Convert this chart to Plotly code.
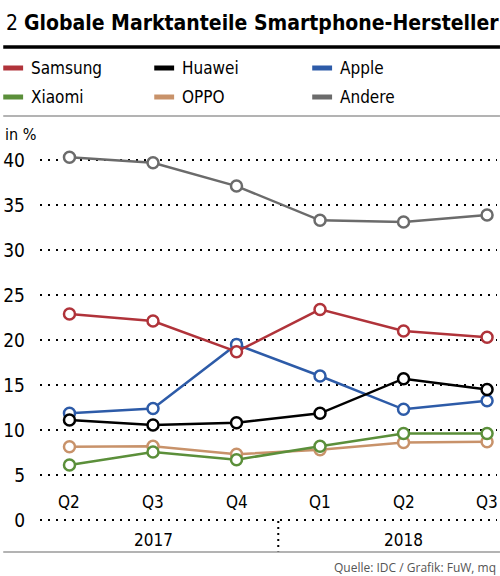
import plotly.graph_objects as go

# Daten (Marktanteile in %)
quartale = ["Q2", "Q3", "Q4", "Q1", "Q2", "Q3"]
jahre = ["2017", "2018"]
hersteller = ["Samsung", "Huawei", "Apple", "Xiaomi", "OPPO", "Andere"]

samsung = [22.9, 22.1, 18.7, 23.4, 21.0, 20.3]
huawei = [11.1, 10.55, 10.8, 11.85, 15.7, 14.5]
apple = [11.85, 12.4, 19.5, 16.0, 12.3, 13.25]
xiaomi = [6.1, 7.55, 6.7, 8.2, 9.6, 9.6]
oppo = [8.15, 8.2, 7.3, 7.8, 8.6, 8.7]
andere = [40.3, 39.7, 37.1, 33.3, 33.1, 33.9]

y_ticks = [0, 5, 10, 15, 20, 25, 30, 35, 40]

FONT = "DejaVu Sans Condensed, Liberation Sans Narrow, sans-serif"

farben = {
    "Samsung": "#b0333a",
    "Huawei": "#000000",
    "Apple": "#2d5ba8",
    "Xiaomi": "#5b8f3a",
    "OPPO": "#c8926a",
    "Andere": "#6b6b6b",
}
werte = {
    "Samsung": samsung,
    "Huawei": huawei,
    "Apple": apple,
    "Xiaomi": xiaomi,
    "OPPO": oppo,
    "Andere": andere,
}

W, H = 500, 576
L, R, T, B = 37, 3, 151, 47
PW, PH = W - L - R, H - T - B


def px_x(p):
    # Pixel -> Papierkoordinate (x)
    return (p - L) / PW


def px_y(p):
    # Pixel -> Papierkoordinate (y)
    return (H - B - p) / PH


x = list(range(len(quartale)))

fig = go.Figure()

# Zeichenreihenfolge: Samsung zuletzt (liegt oben)
for name in ["Andere", "Apple", "Huawei", "OPPO", "Xiaomi", "Samsung"]:
    fig.add_trace(go.Scatter(
        x=x, y=werte[name], name=name, mode="lines+markers",
        line=dict(color=farben[name], width=2.5),
        marker=dict(size=11, color="white", line=dict(color=farben[name], width=2.5)),
        showlegend=False, cliponaxis=False,
    ))

# Quartals-Beschriftungen im Diagramm
for i, q in enumerate(quartale):
    fig.add_annotation(x=i, y=2, text=q, showarrow=False, xref="x", yref="y",
                       font=dict(size=17, family=FONT, color="black"))

# Jahres-Beschriftungen
fig.add_annotation(x=1, y=px_y(540), text=jahre[0], showarrow=False, xref="x",
                   yref="paper", yanchor="middle",
                   font=dict(size=17, family=FONT, color="black"))
fig.add_annotation(x=4, y=px_y(540), text=jahre[1], showarrow=False, xref="x",
                   yref="paper", yanchor="middle",
                   font=dict(size=17, family=FONT, color="black"))

# Trenner zwischen den Jahren
fig.add_shape(type="line", x0=2.5, x1=2.5, xref="x", y0=px_y(521), y1=px_y(552),
              yref="paper", line=dict(color="black", width=2, dash="2px,4px"))

# Legende von Hand (3 Spalten, 2 Zeilen)
leg_x = [0, 152, 311]
leg_y = [68, 97]
for k, name in enumerate(hersteller):
    col, row = k % 3, k // 3
    lx, ly = leg_x[col], leg_y[row]
    fig.add_shape(type="line", xref="paper", yref="paper",
                  x0=px_x(lx), x1=px_x(lx + 20), y0=px_y(ly), y1=px_y(ly),
                  line=dict(color=farben[name], width=5))
    fig.add_annotation(xref="paper", yref="paper", x=px_x(lx + 26), y=px_y(ly),
                       text=name, showarrow=False, xanchor="left", yanchor="middle",
                       font=dict(size=17, family=FONT, color="black"))

# Titel und Linien
fig.add_annotation(xref="paper", yref="paper", x=px_x(1), y=px_y(23),
                   text="2 <b>Globale Marktanteile Smartphone-Hersteller</b>",
                   showarrow=False, xanchor="left", yanchor="middle",
                   font=dict(size=21, family=FONT, color="black"))
fig.add_shape(type="line", xref="paper", yref="paper", x0=px_x(0), x1=px_x(500),
              y0=px_y(47), y1=px_y(47), line=dict(color="black", width=3.5))
fig.add_shape(type="line", xref="paper", yref="paper", x0=px_x(0), x1=px_x(500),
              y0=px_y(116), y1=px_y(116), line=dict(color="#9a9a9a", width=1.5))
fig.add_shape(type="line", xref="paper", yref="paper", x0=px_x(0), x1=px_x(500),
              y0=px_y(552), y1=px_y(552), line=dict(color="#9a9a9a", width=1.5))
fig.add_annotation(xref="paper", yref="paper", x=px_x(0), y=px_y(134),
                   text="in %", showarrow=False, xanchor="left", yanchor="middle",
                   font=dict(size=16, family=FONT, color="black"))
fig.add_annotation(xref="paper", yref="paper", x=px_x(498), y=px_y(567),
                   text="Quelle: IDC / Grafik: FuW, mq", showarrow=False,
                   xanchor="right", yanchor="middle",
                   font=dict(size=12, family="Open Sans, sans-serif", color="#555555"))

fig.update_layout(
    width=W, height=H,
    margin=dict(l=L, r=R, t=T, b=B),
    paper_bgcolor="white", plot_bgcolor="white",
    hovermode=False,
    xaxis=dict(range=[-0.353, 5.119], showticklabels=False, showgrid=False,
               zeroline=False, ticks=""),
    yaxis=dict(range=[-1, 41], tickvals=y_ticks, showgrid=True, gridcolor="black",
               gridwidth=2, griddash="2px,6px", zeroline=False, ticks="",
               ticklabelstandoff=14,
               tickfont=dict(size=19, family=FONT, color="black")),
)

fig.write_html("out.html",
               config={"displayModeBar": False},
               post_script="document.body.style.margin='0';"
                           "document.body.style.overflow='hidden';")
